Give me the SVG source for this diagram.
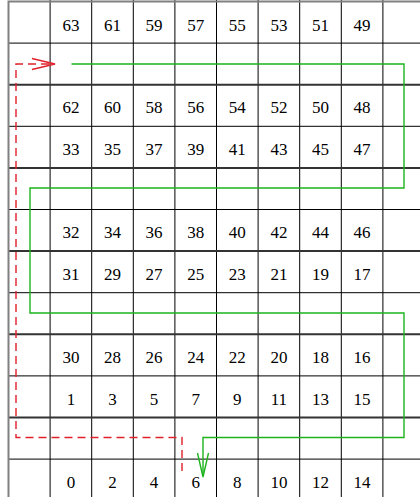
<svg xmlns="http://www.w3.org/2000/svg" width="420" height="497" viewBox="0 0 420 497">
<style>
.thin{stroke:#000;stroke-width:1;fill:none}
.thick{stroke:#333;stroke-width:2;fill:none}
.border{stroke:#808080;stroke-width:2;fill:none}
.num{font-family:'Liberation Serif','DejaVu Serif',serif;font-size:17px;text-anchor:middle;fill:#000}
.green{stroke:#1db41d;stroke-width:1.4;fill:none}
.red{stroke:#e0202a;stroke-width:1.4;fill:none;stroke-dasharray:8,5}
.redsolid{stroke:#e0202a;stroke-width:1.4;fill:none}
</style>
<rect width="420" height="497" fill="#fff"/>
<g id="grid">
<path class="thin" d="M50.1,0V497M91.7,0V497M133.3,0V497M174.9,0V497M216.5,0V497M258.1,0V497M299.7,0V497M341.3,0V497M382.9,0V497"/>
<path class="thin" d="M8,43.1H420M8,126.3H420M8,209.5H420M8,292.7H420M8,375.9H420M8,459.1H420"/>
<path class="thick" d="M8,84.7H420M8,167.9H420M8,251.1H420M8,334.3H420M8,417.5H420"/>
<path class="border" d="M8.5,497V1.5H420"/>
</g>
<g id="labels" font-family="Liberation Serif, serif">
<text class="num" x="71" y="30.5">63</text><text class="num" x="112.5" y="30.5">61</text><text class="num" x="154.1" y="30.5">59</text><text class="num" x="195.7" y="30.5">57</text><text class="num" x="237.3" y="30.5">55</text><text class="num" x="278.9" y="30.5">53</text><text class="num" x="320.5" y="30.5">51</text><text class="num" x="362.1" y="30.5">49</text>
<text class="num" x="71" y="113.3">62</text><text class="num" x="112.5" y="113.3">60</text><text class="num" x="154.1" y="113.3">58</text><text class="num" x="195.7" y="113.3">56</text><text class="num" x="237.3" y="113.3">54</text><text class="num" x="278.9" y="113.3">52</text><text class="num" x="320.5" y="113.3">50</text><text class="num" x="362.1" y="113.3">48</text>
<text class="num" x="71" y="154.9">33</text><text class="num" x="112.5" y="154.9">35</text><text class="num" x="154.1" y="154.9">37</text><text class="num" x="195.7" y="154.9">39</text><text class="num" x="237.3" y="154.9">41</text><text class="num" x="278.9" y="154.9">43</text><text class="num" x="320.5" y="154.9">45</text><text class="num" x="362.1" y="154.9">47</text>
<text class="num" x="71" y="238.1">32</text><text class="num" x="112.5" y="238.1">34</text><text class="num" x="154.1" y="238.1">36</text><text class="num" x="195.7" y="238.1">38</text><text class="num" x="237.3" y="238.1">40</text><text class="num" x="278.9" y="238.1">42</text><text class="num" x="320.5" y="238.1">44</text><text class="num" x="362.1" y="238.1">46</text>
<text class="num" x="71" y="279.7">31</text><text class="num" x="112.5" y="279.7">29</text><text class="num" x="154.1" y="279.7">27</text><text class="num" x="195.7" y="279.7">25</text><text class="num" x="237.3" y="279.7">23</text><text class="num" x="278.9" y="279.7">21</text><text class="num" x="320.5" y="279.7">19</text><text class="num" x="362.1" y="279.7">17</text>
<text class="num" x="71" y="362.9">30</text><text class="num" x="112.5" y="362.9">28</text><text class="num" x="154.1" y="362.9">26</text><text class="num" x="195.7" y="362.9">24</text><text class="num" x="237.3" y="362.9">22</text><text class="num" x="278.9" y="362.9">20</text><text class="num" x="320.5" y="362.9">18</text><text class="num" x="362.1" y="362.9">16</text>
<text class="num" x="71" y="404.5">1</text><text class="num" x="112.5" y="404.5">3</text><text class="num" x="154.1" y="404.5">5</text><text class="num" x="195.7" y="404.5">7</text><text class="num" x="237.3" y="404.5">9</text><text class="num" x="278.9" y="404.5">11</text><text class="num" x="320.5" y="404.5">13</text><text class="num" x="362.1" y="404.5">15</text>
<text class="num" x="71" y="487.7">0</text><text class="num" x="112.5" y="487.7">2</text><text class="num" x="154.1" y="487.7">4</text><text class="num" x="195.7" y="487.7">6</text><text class="num" x="237.3" y="487.7">8</text><text class="num" x="278.9" y="487.7">10</text><text class="num" x="320.5" y="487.7">12</text><text class="num" x="362.1" y="487.7">14</text>
</g>
<g id="connectors">
<path class="green" d="M71.5,64H404V188H30V313H404V437.5H203V476"/>
<path class="green" d="M197.5,453L203,477L208.5,453"/>
<path class="red" d="M182,471V437.5H16V64H54"/>
<path class="redsolid" d="M32,58.5L55,64L32,69.5"/>
</g>
</svg>
